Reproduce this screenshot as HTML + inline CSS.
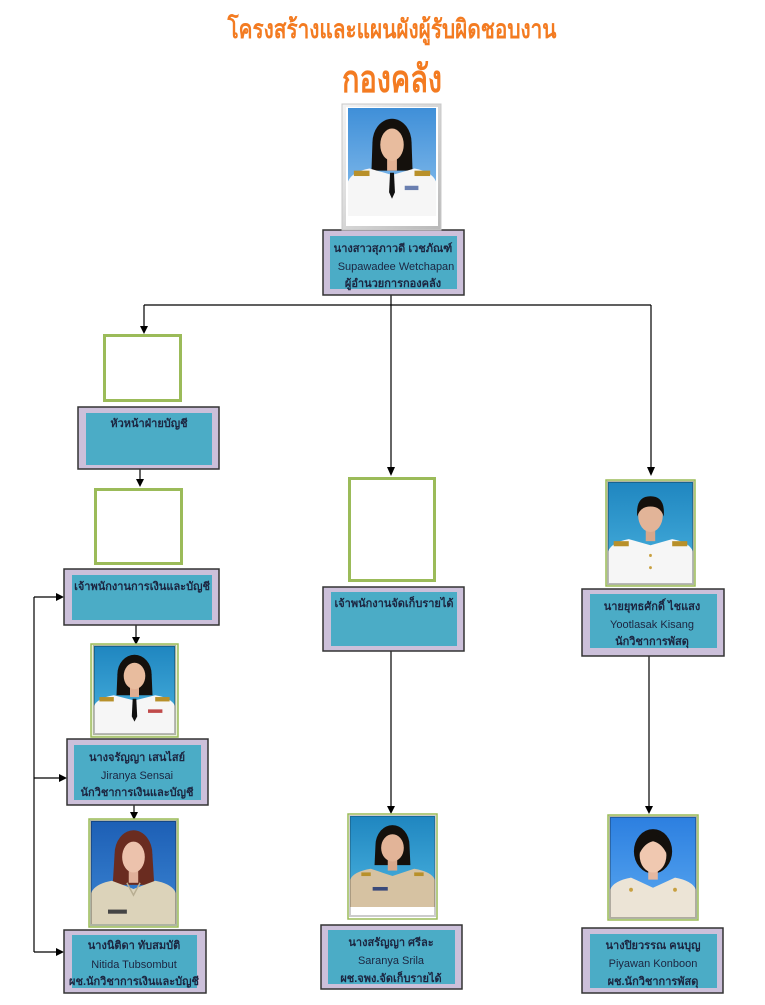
<!DOCTYPE html>
<html><head><meta charset="utf-8">
<style>
html,body{margin:0;padding:0;background:#fff;}
svg{display:block;}
.t{font-family:"Liberation Sans","DejaVu Sans",sans-serif;fill:#1c2540;font-size:11px;text-anchor:middle;}
.th{font-weight:bold;}
</style></head>
<body>
<svg width="765" height="1005" viewBox="0 0 765 1005" xmlns="http://www.w3.org/2000/svg">
<defs>
<linearGradient id="bgTop" x1="0" y1="0" x2="0" y2="1"><stop offset="0" stop-color="#3f8fd8"/><stop offset="1" stop-color="#8ec2ee"/></linearGradient>
<linearGradient id="bgTeal" x1="0" y1="0" x2="0" y2="1"><stop offset="0" stop-color="#1f86c0"/><stop offset="1" stop-color="#4cb4e0"/></linearGradient>
<linearGradient id="bgBlue" x1="0" y1="0" x2="0" y2="1"><stop offset="0" stop-color="#1d5fb5"/><stop offset="1" stop-color="#3c86d4"/></linearGradient>
<linearGradient id="bgSky" x1="0" y1="0" x2="0" y2="1"><stop offset="0" stop-color="#2c7fe0"/><stop offset="1" stop-color="#5aa8f0"/></linearGradient>
<linearGradient id="frameG" x1="0" y1="0" x2="1" y2="1"><stop offset="0" stop-color="#f4f4f4"/><stop offset="1" stop-color="#b8b8b8"/></linearGradient>
</defs>

<!-- Titles -->
<text x="392" y="38" text-anchor="middle" font-family="Liberation Sans, DejaVu Sans, sans-serif" font-weight="bold" font-size="26" fill="#f37b21" textLength="329" lengthAdjust="spacingAndGlyphs">โครงสร้างและแผนผังผู้รับผิดชอบงาน</text>
<text x="392" y="92" text-anchor="middle" font-family="Liberation Sans, DejaVu Sans, sans-serif" font-weight="bold" font-size="38" fill="#f37b21" textLength="100" lengthAdjust="spacingAndGlyphs">กองคลัง</text>

<!-- Connectors -->
<g stroke="#000" stroke-width="1.2" fill="none">
<line x1="391" y1="295" x2="391" y2="305"/>
<line x1="144" y1="305" x2="651" y2="305"/>
<line x1="144" y1="305" x2="144" y2="326"/>
<line x1="391" y1="305" x2="391" y2="468"/>
<line x1="651" y1="305" x2="651" y2="468"/>
<line x1="140" y1="469" x2="140" y2="480"/>
<line x1="136" y1="625" x2="136" y2="638"/>
<line x1="134" y1="805" x2="134" y2="813"/>
<line x1="391" y1="651" x2="391" y2="806"/>
<line x1="649" y1="656" x2="649" y2="806"/>
<line x1="34" y1="597" x2="34" y2="952"/>
<line x1="34" y1="597" x2="57" y2="597"/>
<line x1="34" y1="778" x2="60" y2="778"/>
<line x1="34" y1="952" x2="57" y2="952"/>
</g>
<g fill="#000">
<polygon points="140,326 148,326 144,334"/>
<polygon points="387,467 395,467 391,476"/>
<polygon points="647,467 655,467 651,476"/>
<polygon points="136,479 144,479 140,487"/>
<polygon points="132,637 140,637 136,645"/>
<polygon points="130,812 138,812 134,820"/>
<polygon points="387,806 395,806 391,814"/>
<polygon points="645,806 653,806 649,814"/>
<polygon points="56,593 56,601 64,597"/>
<polygon points="59,774 59,782 67,778"/>
<polygon points="56,948 56,956 64,952"/>
</g>

<!-- Green empty boxes -->
<g fill="#fff" stroke="#9bbb59" stroke-width="3">
<rect x="104.5" y="335.5" width="76" height="65"/>
<rect x="95.5" y="489.5" width="86" height="74"/>
<rect x="349.5" y="478.5" width="85" height="102"/>
</g>

<!-- Label boxes -->
<g stroke="#333" stroke-width="1.5" fill="#ccc0da">
<rect x="323" y="230" width="141" height="65"/>
<rect x="78" y="407" width="141" height="62"/>
<rect x="64" y="569" width="155" height="56"/>
<rect x="67" y="739" width="141" height="66"/>
<rect x="64" y="930" width="142" height="63"/>
<rect x="323" y="587" width="141" height="64"/>
<rect x="321" y="925" width="141" height="64"/>
<rect x="582" y="589" width="142" height="67"/>
<rect x="582" y="928" width="141" height="65"/>
</g>
<g fill="#4bacc6">
<rect x="330" y="236" width="127" height="53"/>
<rect x="86" y="413" width="126" height="52"/>
<rect x="72" y="575" width="140" height="45"/>
<rect x="74" y="745" width="127" height="55"/>
<rect x="72" y="935" width="125" height="53"/>
<rect x="331" y="592" width="126" height="54"/>
<rect x="328" y="930" width="127" height="54"/>
<rect x="590" y="594" width="127" height="54"/>
<rect x="590" y="934" width="127" height="54"/>
</g>

<!-- Label text -->
<text class="t th" x="393" y="252">นางสาวสุภาวดี  เวชภัณฑ์</text>
<text class="t" x="396" y="270">Supawadee Wetchapan</text>
<text class="t th" x="393" y="287">ผู้อำนวยการกองคลัง</text>

<text class="t th" x="149" y="427">หัวหน้าฝ่ายบัญชี</text>
<text class="t th" x="142" y="590">เจ้าพนักงานการเงินและบัญชี</text>

<text class="t th" x="137" y="761">นางจรัญญา  เสนไสย์</text>
<text class="t" x="137" y="779">Jiranya  Sensai</text>
<text class="t th" x="137" y="796">นักวิชาการเงินและบัญชี</text>

<text class="t th" x="134" y="949">นางนิติดา  ทับสมบัติ</text>
<text class="t" x="134" y="968">Nitida  Tubsombut</text>
<text class="t th" x="134" y="985">ผช.นักวิชาการเงินและบัญชี</text>

<text class="t th" x="394" y="607">เจ้าพนักงานจัดเก็บรายได้</text>

<text class="t th" x="391" y="946">นางสรัญญา  ศรีละ</text>
<text class="t" x="391" y="964">Saranya  Srila</text>
<text class="t th" x="391" y="982">ผช.จพง.จัดเก็บรายได้</text>

<text class="t th" x="652" y="610">นายยุทธศักดิ์  ไชแสง</text>
<text class="t" x="652" y="628">Yootlasak   Kisang</text>
<text class="t th" x="652" y="645">นักวิชาการพัสดุ</text>

<text class="t th" x="653" y="949">นางปิยวรรณ  คนบุญ</text>
<text class="t" x="653" y="967">Piyawan  Konboon</text>
<text class="t th" x="653" y="985">ผช.นักวิชาการพัสดุ</text>

<!-- Top photo -->
<rect x="342" y="104" width="99" height="126" fill="url(#frameG)" stroke="#c8c8c8"/>
<rect x="346" y="107" width="92" height="119" fill="#fff"/>
<g transform="translate(348,108) scale(0.978,1.08)">
<rect x="0" y="0" width="90" height="100" fill="url(#bgTop)"/>
<ellipse cx="45" cy="32" rx="20" ry="22" fill="#14100c"/>
<path d="M25,32 L24,58 L66,58 L65,32Z" fill="#14100c"/>
<rect x="40" y="42" width="10" height="16" fill="#e2b194"/>
<ellipse cx="45" cy="34" rx="12" ry="15" fill="#e8bc9e"/>
<path d="M0,100 L0,68 Q4,59 22,56 L45,62 L68,56 Q86,59 90,68 L90,100Z" fill="#f6f6f6"/>
<path d="M43,60 L47,60 L48,78 L45,84 L42,78Z" fill="#111"/>
<rect x="6" y="58" width="16" height="5" fill="#b8902a"/>
<rect x="68" y="58" width="16" height="5" fill="#b8902a"/>
<rect x="58" y="72" width="14" height="4" fill="#6a7fb0"/>
</g>

<!-- Jiranya -->
<rect x="91" y="644" width="87" height="93" fill="#e8f0d8" stroke="#9bbb59" stroke-width="1.5"/>
<g transform="translate(94,646) scale(0.9,0.88)">
<rect x="0" y="0" width="90" height="100" fill="url(#bgTeal)"/>
<ellipse cx="45" cy="32" rx="19" ry="22" fill="#14100c"/>
<path d="M26,32 L25,56 L65,56 L64,32Z" fill="#14100c"/>
<rect x="40" y="42" width="10" height="16" fill="#e0ae92"/>
<ellipse cx="45" cy="34" rx="12" ry="15" fill="#e8bc9e"/>
<path d="M0,100 L0,68 Q4,59 22,56 L45,62 L68,56 Q86,59 90,68 L90,100Z" fill="#f6f6f6"/>
<path d="M43,60 L47,60 L48,80 L45,86 L42,80Z" fill="#111"/>
<rect x="6" y="58" width="16" height="5" fill="#b8902a"/>
<rect x="68" y="58" width="16" height="5" fill="#b8902a"/>
<rect x="60" y="72" width="16" height="4" fill="#c04a4a"/>
</g>
<rect x="94" y="646" width="81" height="88" fill="none" stroke="rgba(0,0,0,0.25)" stroke-width="2"/>

<!-- Nitida -->
<rect x="89" y="819" width="89" height="108" fill="#e8f0d8" stroke="#9bbb59" stroke-width="1.5"/>
<g transform="translate(91,821) scale(0.944,1.03)">
<rect x="0" y="0" width="90" height="100" fill="url(#bgBlue)"/>
<ellipse cx="45" cy="32" rx="20" ry="23" fill="#6a2c20"/>
<path d="M25,32 L23,62 L67,62 L65,32Z" fill="#6a2c20"/>
<rect x="40" y="44" width="10" height="16" fill="#e0b09a"/>
<ellipse cx="45" cy="35" rx="12" ry="15" fill="#ecc2ac"/>
<path d="M0,100 L0,70 Q4,61 22,58 L45,66 L68,58 Q86,61 90,70 L90,100Z" fill="#dcd3ba"/>
<path d="M38,60 L45,72 L52,60" fill="none" stroke="#b8ae92" stroke-width="1.5"/>
<rect x="18" y="86" width="20" height="4" fill="#444"/>
</g>
<rect x="91" y="821" width="85" height="104" fill="none" stroke="rgba(0,0,0,0.25)" stroke-width="2"/>

<!-- Saranya -->
<rect x="348" y="814" width="89" height="105" fill="#fff" stroke="#9bbb59" stroke-width="1.5"/>
<g transform="translate(350,816) scale(0.944,0.91)">
<rect x="0" y="0" width="90" height="100" fill="url(#bgTeal)"/>
<ellipse cx="45" cy="32" rx="18" ry="22" fill="#14100c"/>
<path d="M27,32 L26,54 L64,54 L63,32Z" fill="#14100c"/>
<rect x="40" y="44" width="10" height="16" fill="#d8a88c"/>
<ellipse cx="45" cy="35" rx="12" ry="15" fill="#e2b498"/>
<path d="M0,100 L0,70 Q4,61 22,58 L45,66 L68,58 Q86,61 90,70 L90,100Z" fill="#d6c2a2"/>
<rect x="12" y="62" width="10" height="4" fill="#b8902a"/>
<rect x="68" y="62" width="10" height="4" fill="#b8902a"/>
<rect x="24" y="78" width="16" height="4" fill="#3a4a7a"/>
</g>
<rect x="350" y="816" width="85" height="100" fill="none" stroke="rgba(0,0,0,0.2)" stroke-width="2"/>

<!-- Yootlasak -->
<rect x="606" y="480" width="89" height="106" fill="#e8f0d8" stroke="#9bbb59" stroke-width="1.5"/>
<g transform="translate(608,482) scale(0.944,1.02)">
<rect x="0" y="0" width="90" height="100" fill="url(#bgTeal)"/>
<rect x="40" y="42" width="10" height="16" fill="#d8a88c"/>
<ellipse cx="45" cy="33" rx="13" ry="16" fill="#e2b498"/>
<path d="M31,34 Q29,14 45,14 Q61,14 59,34 Q56,24 45,24 Q34,24 31,34Z" fill="#14100c"/>
<path d="M0,100 L0,68 Q4,59 22,56 L45,62 L68,56 Q86,59 90,68 L90,100Z" fill="#f6f6f6"/>
<rect x="6" y="58" width="16" height="5" fill="#b8902a"/>
<rect x="68" y="58" width="16" height="5" fill="#b8902a"/>
<circle cx="45" cy="72" r="1.5" fill="#c8a040"/>
<circle cx="45" cy="84" r="1.5" fill="#c8a040"/>
</g>
<rect x="608" y="482" width="85" height="102" fill="none" stroke="rgba(0,0,0,0.25)" stroke-width="2"/>

<!-- Piyawan -->
<rect x="608" y="815" width="90" height="105" fill="#e8f0d8" stroke="#9bbb59" stroke-width="1.5"/>
<g transform="translate(610,817) scale(0.956,1.01)">
<rect x="0" y="0" width="90" height="100" fill="url(#bgSky)"/>
<ellipse cx="45" cy="34" rx="20" ry="22" fill="#14100c"/>
<rect x="40" y="46" width="10" height="16" fill="#e6b8a0"/>
<ellipse cx="45" cy="38" rx="14" ry="17" fill="#f0c8b0"/>
<path d="M31,36 Q32,18 45,18 Q58,18 59,36 Q54,26 45,24 Q36,26 31,36Z" fill="#14100c"/>
<path d="M0,100 L0,72 Q4,63 22,60 L45,70 L68,60 Q86,63 90,72 L90,100Z" fill="#ece4d6"/>
<circle cx="22" cy="72" r="2" fill="#c8a040"/>
<circle cx="68" cy="72" r="2" fill="#c8a040"/>
</g>
<rect x="610" y="817" width="86" height="101" fill="none" stroke="rgba(0,0,0,0.25)" stroke-width="2"/>
</svg>
</body></html>
